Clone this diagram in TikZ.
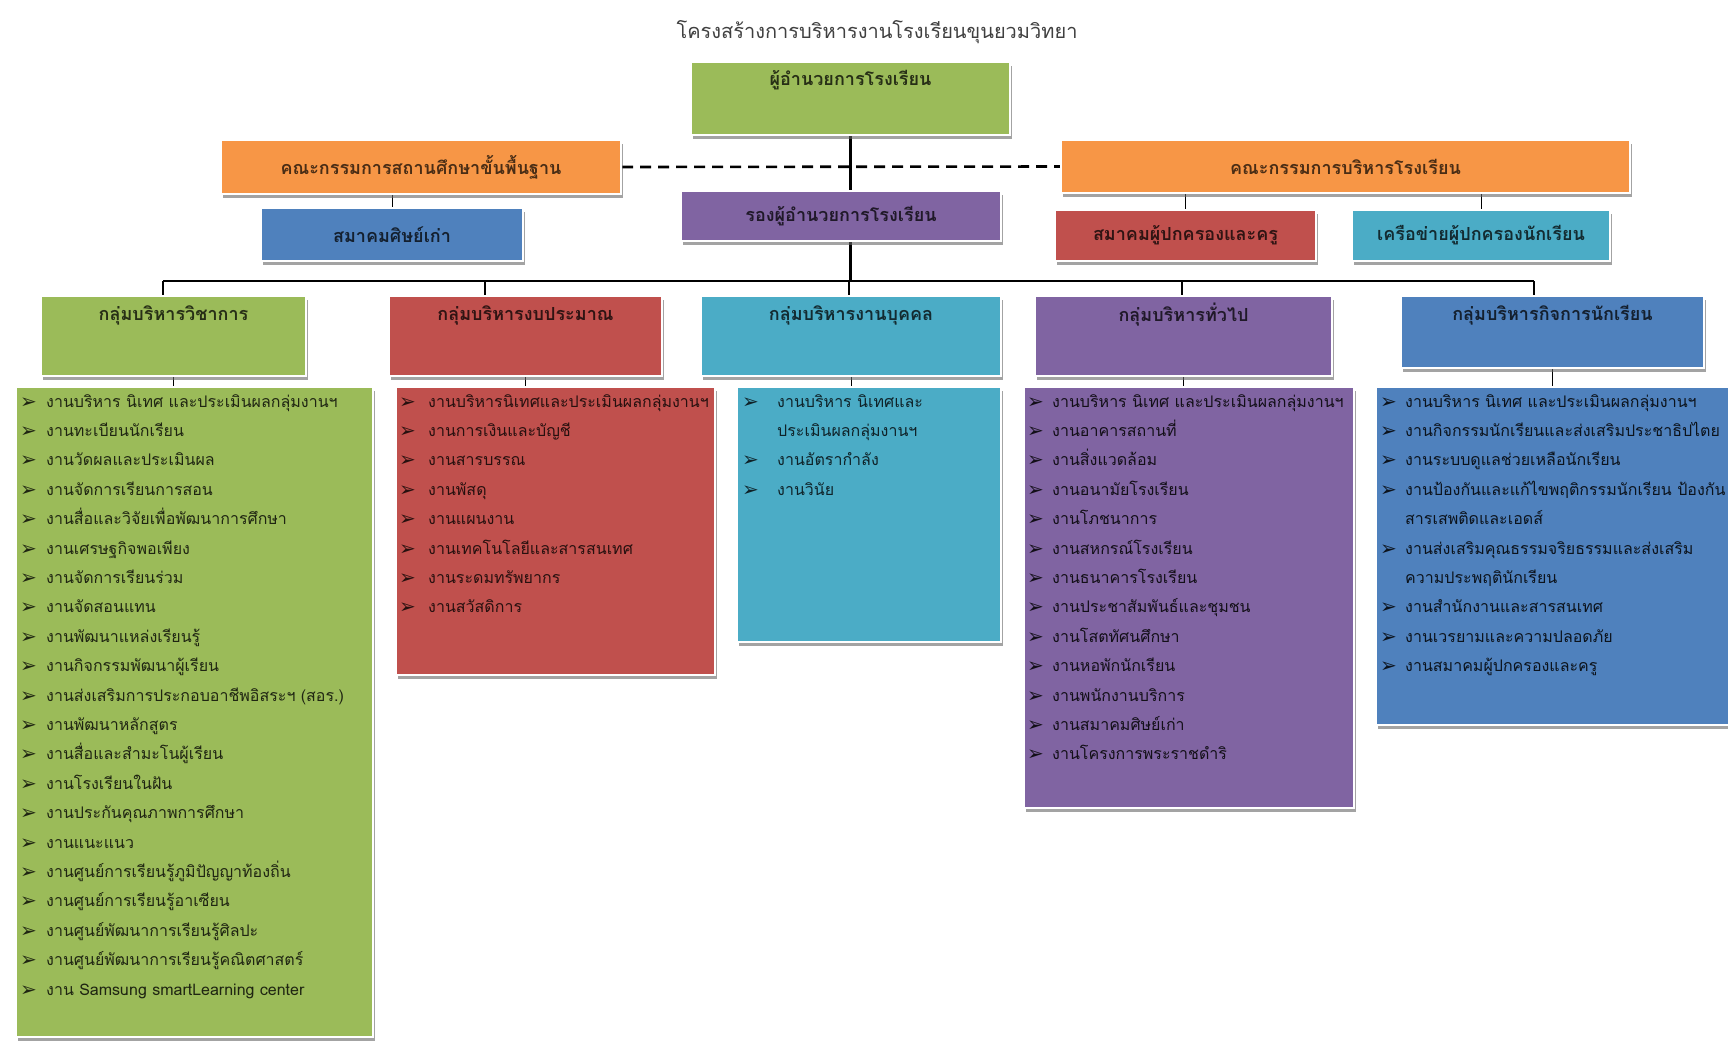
\documentclass[tikz,border=0pt]{standalone}
\usepackage{fontspec}
\setmainfont[Script=Thai]{Loma}
\newfontfamily\bulletfont{DejaVu Sans}
\usepackage{tikz}
\usetikzlibrary{shadows,backgrounds}

\definecolor{offgreen}{HTML}{9BBB59}
\definecolor{offorange}{HTML}{F79646}
\definecolor{offblue}{HTML}{4F81BD}
\definecolor{offred}{HTML}{C0504D}
\definecolor{offpurple}{HTML}{8064A2}
\definecolor{offaqua}{HTML}{4BACC6}

\newcommand\wkitem[2][26pt]{\makebox[#1][l]{\raisebox{-1pt}{\bulletfont\fontsize{20}{20}\selectfont ➢}}#2}
\newcommand\wkmore[2][26pt]{\hspace*{#1}#2}

\tikzset{
  orgbox/.style={draw=white, line width=2pt, inner sep=0pt, anchor=north west,
    drop shadow={shadow xshift=2pt, shadow yshift=-4pt, fill=black!60, opacity=.6}},
  boxlabel/.style={font=\bfseries\fontsize{18}{22}\selectfont},
  worklist/.style={font=\fontsize{16}{29.4}\selectfont, align=left, anchor=north west, inner sep=0pt},
  orgline/.style={line width=2.6pt},
  tickline/.style={line width=1pt},
}

\begin{document}
\begin{tikzpicture}[x=1pt,y=-1pt]
    \useasboundingbox (0,0) rectangle (1728,1042);
    \node[font=\fontsize{20}{24}\selectfont, text=black!75] (title) at (877,32) {โครงสร้างการบริหารงานโรงเรียนขุนยวมวิทยา};

    \node[orgbox, fill=offgreen, minimum width=319pt, minimum height=73pt] (boss) at (690,61) {};
    \node[boxlabel, text=offgreen!25!black] (bosstxt) at ([yshift=-19pt]boss.north) {ผู้อำนวยการโรงเรียน};

    \node[orgbox, boxlabel, fill=offorange, text=offorange!30!black, minimum width=400pt, minimum height=54pt] (board) at (220,139) {คณะกรรมการสถานศึกษาขั้นพื้นฐาน};
    \node[orgbox, boxlabel, fill=offorange, text=offorange!30!black, minimum width=569pt, minimum height=53pt] (committee) at (1060,139) {คณะกรรมการบริหารโรงเรียน};
    \node[orgbox, boxlabel, fill=offpurple, text=offpurple!25!black, minimum width=320pt, minimum height=50pt] (deputy) at (680,190) {รองผู้อำนวยการโรงเรียน};
    \node[orgbox, boxlabel, fill=offblue, text=offblue!25!black, minimum width=262pt, minimum height=53pt] (alumni) at (260,207) {สมาคมศิษย์เก่า};
    \node[orgbox, boxlabel, fill=offred, text=offred!25!black, minimum width=261pt, minimum height=51pt] (parents) at (1054,209) {สมาคมผู้ปกครองและครู};
    \node[orgbox, boxlabel, fill=offaqua, text=offaqua!25!black, minimum width=258pt, minimum height=51pt] (network) at (1351,209) {เครือข่ายผู้ปกครองนักเรียน};

    \node[orgbox, fill=offgreen, minimum width=265pt, minimum height=80pt] (grpacad) at (40,295) {};
    \node[boxlabel, text=offgreen!25!black] (grpacadtxt) at ([yshift=-20pt]grpacad.north) {กลุ่มบริหารวิชาการ};
    \node[orgbox, fill=offred, minimum width=273pt, minimum height=80pt] (grpbudget) at (388,295) {};
    \node[boxlabel, text=offred!25!black] (grpbudgettxt) at ([yshift=-20pt]grpbudget.north) {กลุ่มบริหารงบประมาณ};
    \node[orgbox, fill=offaqua, minimum width=300pt, minimum height=80pt] (grpstaff) at (700,295) {};
    \node[boxlabel, text=offaqua!25!black] (grpstafftxt) at ([yshift=-20pt]grpstaff.north) {กลุ่มบริหารงานบุคคล};
    \node[orgbox, fill=offpurple, minimum width=297pt, minimum height=80pt] (grpgeneral) at (1034,295) {};
    \node[boxlabel, text=offpurple!25!black] (grpgeneraltxt) at ([yshift=-20pt]grpgeneral.north) {กลุ่มบริหารทั่วไป};
    \node[orgbox, fill=offblue, minimum width=303pt, minimum height=72pt] (grpstudent) at (1400,295) {};
    \node[boxlabel, text=offblue!25!black] (grpstudenttxt) at ([yshift=-20pt]grpstudent.north) {กลุ่มบริหารกิจการนักเรียน};

    \node[orgbox, fill=offgreen, minimum width=357pt, minimum height=650pt] (listacad) at (15,386) {};
    \node[worklist, text=offgreen!20!black] (listacadtxt) at ([xshift=5pt,yshift=-8pt]listacad.north west) {
        \wkitem{งานบริหาร นิเทศ และประเมินผลกลุ่มงานฯ}\\
        \wkitem{งานทะเบียนนักเรียน}\\
        \wkitem{งานวัดผลและประเมินผล}\\
        \wkitem{งานจัดการเรียนการสอน}\\
        \wkitem{งานสื่อและวิจัยเพื่อพัฒนาการศึกษา}\\
        \wkitem{งานเศรษฐกิจพอเพียง}\\
        \wkitem{งานจัดการเรียนร่วม}\\
        \wkitem{งานจัดสอนแทน}\\
        \wkitem{งานพัฒนาแหล่งเรียนรู้}\\
        \wkitem{งานกิจกรรมพัฒนาผู้เรียน}\\
        \wkitem{งานส่งเสริมการประกอบอาชีพอิสระฯ (สอร.)}\\
        \wkitem{งานพัฒนาหลักสูตร}\\
        \wkitem{งานสื่อและสำมะโนผู้เรียน}\\
        \wkitem{งานโรงเรียนในฝัน}\\
        \wkitem{งานประกันคุณภาพการศึกษา}\\
        \wkitem{งานแนะแนว}\\
        \wkitem{งานศูนย์การเรียนรู้ภูมิปัญญาท้องถิ่น}\\
        \wkitem{งานศูนย์การเรียนรู้อาเซียน}\\
        \wkitem{งานศูนย์พัฒนาการเรียนรู้ศิลปะ}\\
        \wkitem{งานศูนย์พัฒนาการเรียนรู้คณิตศาสตร์}\\
        \wkitem{งาน Samsung smartLearning center}};

    \node[orgbox, fill=offred, minimum width=319pt, minimum height=288pt] (listbudget) at (395,386) {};
    \node[worklist, text=offred!20!black] (listbudgettxt) at ([xshift=4pt,yshift=-8pt]listbudget.north west) {
        \wkitem[29pt]{งานบริหารนิเทศและประเมินผลกลุ่มงานฯ}\\
        \wkitem[29pt]{งานการเงินและบัญชี}\\
        \wkitem[29pt]{งานสารบรรณ}\\
        \wkitem[29pt]{งานพัสดุ}\\
        \wkitem[29pt]{งานแผนงาน}\\
        \wkitem[29pt]{งานเทคโนโลยีและสารสนเทศ}\\
        \wkitem[29pt]{งานระดมทรัพยากร}\\
        \wkitem[29pt]{งานสวัสดิการ}};

    \node[orgbox, fill=offaqua, minimum width=264pt, minimum height=255pt] (liststaff) at (736,386) {};
    \node[worklist, text=offaqua!20!black] (liststafftxt) at ([xshift=6pt,yshift=-8pt]liststaff.north west) {
        \wkitem[35pt]{งานบริหาร นิเทศและ}\\
        \wkmore[35pt]{ประเมินผลกลุ่มงานฯ}\\
        \wkitem[35pt]{งานอัตรากำลัง}\\
        \wkitem[35pt]{งานวินัย}};

    \node[orgbox, fill=offpurple, minimum width=330pt, minimum height=421pt] (listgeneral) at (1023,386) {};
    \node[worklist, text=offpurple!15!black] (listgeneraltxt) at ([xshift=4pt,yshift=-8pt]listgeneral.north west) {
        \wkitem[25pt]{งานบริหาร นิเทศ และประเมินผลกลุ่มงานฯ}\\
        \wkitem[25pt]{งานอาคารสถานที่}\\
        \wkitem[25pt]{งานสิ่งแวดล้อม}\\
        \wkitem[25pt]{งานอนามัยโรงเรียน}\\
        \wkitem[25pt]{งานโภชนาการ}\\
        \wkitem[25pt]{งานสหกรณ์โรงเรียน}\\
        \wkitem[25pt]{งานธนาคารโรงเรียน}\\
        \wkitem[25pt]{งานประชาสัมพันธ์และชุมชน}\\
        \wkitem[25pt]{งานโสตทัศนศึกษา}\\
        \wkitem[25pt]{งานหอพักนักเรียน}\\
        \wkitem[25pt]{งานพนักงานบริการ}\\
        \wkitem[25pt]{งานสมาคมศิษย์เก่า}\\
        \wkitem[25pt]{งานโครงการพระราชดำริ}};

    \node[orgbox, fill=offblue, minimum width=370pt, minimum height=338pt] (liststudent) at (1375,386) {};
    \node[worklist, text=offblue!15!black] (liststudenttxt) at ([xshift=5pt,yshift=-8pt]liststudent.north west) {
        \wkitem[25pt]{งานบริหาร นิเทศ และประเมินผลกลุ่มงานฯ}\\
        \wkitem[25pt]{งานกิจกรรมนักเรียนและส่งเสริมประชาธิปไตย}\\
        \wkitem[25pt]{งานระบบดูแลช่วยเหลือนักเรียน}\\
        \wkitem[25pt]{งานป้องกันและแก้ไขพฤติกรรมนักเรียน ป้องกัน}\\
        \wkmore[25pt]{สารเสพติดและเอดส์}\\
        \wkitem[25pt]{งานส่งเสริมคุณธรรมจริยธรรมและส่งเสริม}\\
        \wkmore[25pt]{ความประพฤตินักเรียน}\\
        \wkitem[25pt]{งานสำนักงานและสารสนเทศ}\\
        \wkitem[25pt]{งานเวรยามและความปลอดภัย}\\
        \wkitem[25pt]{งานสมาคมผู้ปกครองและครู}};

    \coordinate (busA) at (163,281);
    \coordinate (busB) at (485,281);
    \coordinate (busC) at (849,281);
    \coordinate (busD) at (1182,281);
    \coordinate (busE) at (1534,281);

    \begin{scope}[on background layer]
        \draw[orgline, dashed, dash pattern=on 11pt off 7pt] (board.east) -- (committee.west);
        \draw[orgline] (boss.south) -- (boss.south |- busC);
        \draw[orgline] (busA) -- (busE);
        \foreach \b/\g in {busA/grpacad, busB/grpbudget, busC/grpstaff, busD/grpgeneral, busE/grpstudent}
            \draw[orgline] (\b) -- (\b |- \g.north);
        \draw[tickline] (alumni.north) -- (alumni.north |- board.south);
        \draw[tickline] (parents.north) -- (parents.north |- committee.south);
        \draw[tickline] (network.north) -- (network.north |- committee.south);
        \foreach \g/\l in {grpacad/listacad, grpbudget/listbudget, grpstaff/liststaff, grpgeneral/listgeneral, grpstudent/liststudent}
            \draw[tickline] (\g.south) -- (\g.south |- \l.north);
    \end{scope}
\end{tikzpicture}
\end{document}
